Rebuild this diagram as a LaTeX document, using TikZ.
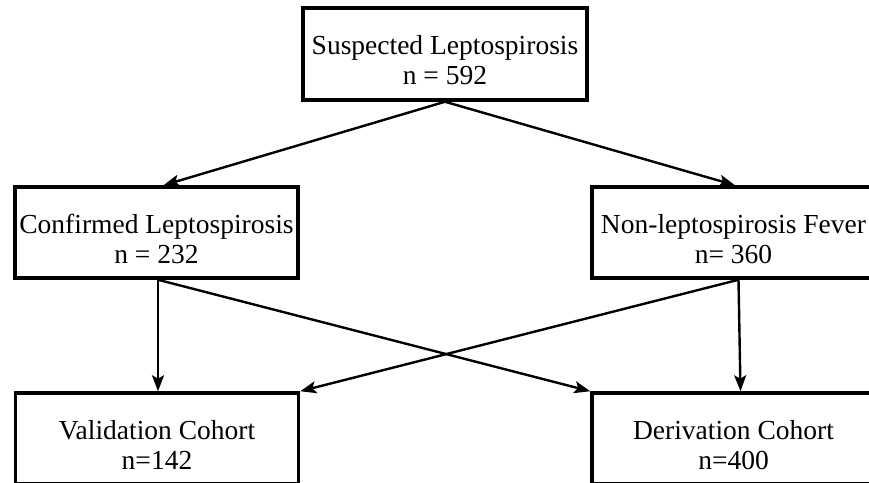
\documentclass[tikz,border=0pt]{standalone}
\usepackage{fontspec}
\setmainfont{Liberation Serif}
\usetikzlibrary{arrows.meta}
\newcommand\boxstrut{\rule{0pt}{32pt}}
\begin{document}
\begin{tikzpicture}[x=1pt,y=-1pt,
    box/.style={rectangle,draw,line width=3.5pt,minimum width=283pt,minimum height=91pt,
      align=center,font=\fontsize{27.5}{30}\selectfont},
    link/.style={line width=2.4pt,-{Stealth[length=16pt,width=12pt,inset=3.5pt]}}]
  \useasboundingbox (0,0) rectangle (869,482);
  \clip (0,0) rectangle (869,482);
  % groups
  \node[box,minimum width=284pt,minimum height=92pt] (susp) at (445,54) {\boxstrut Suspected Leptospirosis\\n = 592};
  \node[box] (conf) at (156.5,232.5) {\boxstrut Confirmed Leptospirosis\\n = 232};
  \node[box] (nonl) at (733.5,232.5) {\boxstrut Non-leptospirosis Fever\\n= 360};
  % cohorts
  \node[box] (valid) at (157,438.5) {\boxstrut Validation Cohort\\n=142};
  \node[box] (deriv) at (733.5,438.5) {\boxstrut Derivation Cohort\\n=400};
  \draw[link] (susp.south) -- ([xshift=7pt]conf.north);
  \draw[link] (susp.south) -- ([xshift=1.5pt]nonl.north);
  \draw[link] ([xshift=1.5pt]conf.south) -- ([xshift=1pt]valid.north);
  \draw[link] ([xshift=1.5pt]conf.south) -- (deriv.north west);
  \draw[link] ([xshift=5pt]nonl.south) -- ([xshift=7pt]deriv.north);
  \draw[link] ([xshift=5pt]nonl.south) -- (valid.north east);
\end{tikzpicture}
\end{document}
